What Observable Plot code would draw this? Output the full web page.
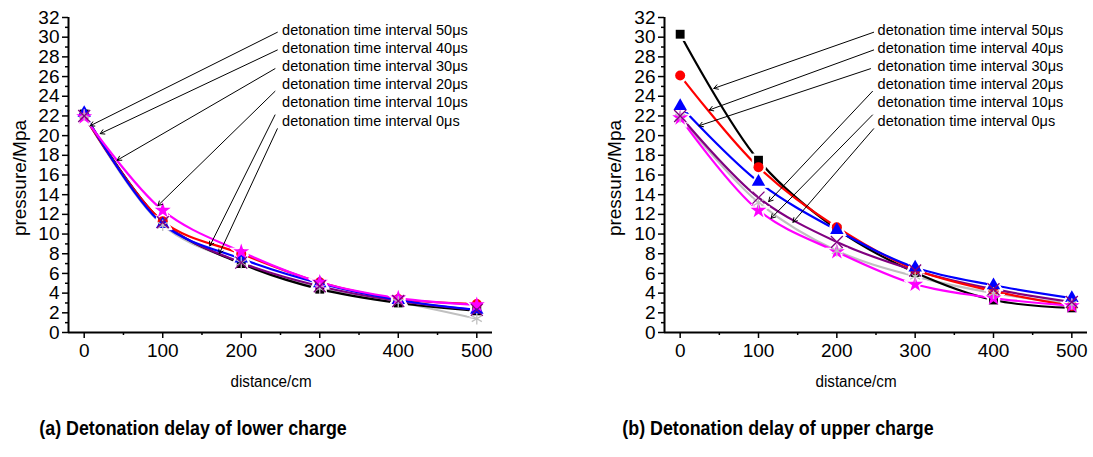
<!DOCTYPE html>
<html>
<head>
<meta charset="utf-8">
<script src="https://cdn.jsdelivr.net/npm/d3@7"></script>
<script src="https://cdn.jsdelivr.net/npm/@observablehq/plot@0.6"></script>
<style>
  html, body { margin: 0; padding: 0; background: #fff; }
  #wrap { position: relative; width: 1093px; height: 457px; font-family: "Liberation Sans", Arial, sans-serif; color: #000; overflow: hidden; }
  .panel { position: absolute; top: 0; }
  .ytitle { position: absolute; font-size: 19px; transform: translate(-50%, -50%) rotate(-90deg); white-space: nowrap; }
  .xtitle { position: absolute; font-size: 16px; transform: translate(-50%, -50%) scaleX(0.95); white-space: nowrap; }
  .caption { position: absolute; font-size: 21px; font-weight: bold; transform: translate(-50%, -50%) scaleX(0.85); white-space: nowrap; }
</style>
</head>
<body>
<div id="wrap"></div>
<script>
// ---- data ----
const distances = [0, 100, 200, 300, 400, 500];
const seriesNames = ["50μs", "40μs", "30μs", "20μs", "10μs", "0μs"];
const labelTexts = seriesNames.map(s => "detonation time interval " + s);

// (a) Detonation delay of lower charge
const lower50 = [22.2, 11.2, 7.0, 4.4, 3.0, 2.2];
const lower40 = [22.1, 11.3, 8.0, 5.1, 3.4, 2.9];
const lower30 = [22.3, 11.0, 7.5, 5.0, 3.3, 2.3];
const lower20 = [22.0, 11.2, 7.1, 4.7, 3.2, 2.3];
const lower10 = [22.1, 10.9, 7.1, 4.5, 3.1, 1.4];
const lower0  = [21.9, 12.4, 8.2, 5.1, 3.5, 2.8];

// (b) Detonation delay of upper charge
const upper50 = [30.3, 17.5, 10.5, 6.1, 3.3, 2.5];
const upper40 = [26.1, 16.8, 10.7, 6.4, 4.2, 2.7];
const upper30 = [23.0, 15.3, 10.4, 6.6, 4.8, 3.5];
const upper20 = [22.0, 13.7, 9.2, 6.3, 4.4, 3.1];
const upper10 = [21.9, 13.2, 8.3, 5.7, 4.0, 2.9];
const upper0  = [21.8, 12.4, 8.2, 4.9, 3.5, 2.7];

const xTicks = [0, 100, 200, 300, 400, 500];
const yTicks = d3.range(0, 33, 2);

// annotation arrows (data coordinates): tail at label, head at curve
const lowerArrowTail = [[246, 30.5], [246, 28.7], [243, 26.8], [243, 24.5], [243, 22.1], [246, 20.7]];
const lowerArrowHead = [[7.6, 21.0], [20.4, 20.2], [42, 17.5], [94, 12.9], [160, 8.8], [172, 8.0]];
const upperArrowTail = [[247, 30.5], [247, 28.7], [243, 26.8], [245.5, 24.5], [245.5, 22.1], [247, 20.7]];
const upperArrowHead = [[43, 24.8], [37, 22.6], [24, 21.0], [113, 13.3], [116, 11.6], [144, 11.2]];
const labelX = 252;
const labelY = [30.7, 28.9, 27.0, 25.2, 23.4, 21.5];

// ---- styles ----
const colorOf = {"50μs": "#000000", "40μs": "#ff0000", "30μs": "#0000ff", "20μs": "#800080", "10μs": "#c0c0c0", "0μs": "#ff00ff"};
const symbolOf = {"50μs": "square", "40μs": "circle", "30μs": "triangle", "20μs": "times", "10μs": "asterisk", "0μs": "star"};
const filled = new Set(["50μs", "40μs", "30μs", "0μs"]);
const drawOrder = ["10μs", "50μs", "20μs", "40μs", "30μs", "0μs"];

function tidy(valuesBySeries) {
  const rows = [];
  for (const s of drawOrder) {
    const vals = valuesBySeries[s];
    distances.forEach((d, i) => rows.push({series: s, x: d, y: vals[i]}));
  }
  return rows;
}

function panel(rows, tails, heads, marginLeft, marginRight) {
  const arrows = tails.map((t, i) => ({x1: t[0], y1: t[1], x2: heads[i][0], y2: heads[i][1]}));
  const labels = labelTexts.map((t, i) => ({text: t, x: labelX, y: labelY[i]}));
  return Plot.plot({
    width: 546,
    height: 400,
    marginLeft, marginRight,
    marginTop: 17,
    marginBottom: 68,
    style: {fontFamily: "'Liberation Sans', Arial, sans-serif", fontSize: "19px", color: "#000", background: "transparent", overflow: "visible"},
    x: {domain: [-20, 520]},
    y: {domain: [0, 32]},
    marks: [
      Plot.axisX({ticks: d3.range(50, 520, 100), tickSize: 3, text: null, strokeWidth: 1.5, label: null}),
      Plot.axisX({ticks: xTicks, tickSize: 6, tickPadding: 5, strokeWidth: 1.5, fontSize: 19, label: null}),
      Plot.axisY({ticks: d3.range(1, 33, 2), tickSize: 3, text: null, strokeWidth: 1.5, label: null}),
      Plot.axisY({ticks: yTicks, tickSize: 6, tickPadding: 3, strokeWidth: 1.5, fontSize: 19, label: null}),
      Plot.ruleY([0], {stroke: "#000", strokeWidth: 2}),
      Plot.ruleX([-20], {stroke: "#000", strokeWidth: 2}),
      Plot.line(rows, {x: "x", y: "y", z: "series", stroke: d => colorOf[d.series], curve: "catmull-rom", strokeWidth: 2.2}),
      Plot.dot(rows, {x: "x", y: "y", symbol: d => symbolOf[d.series], r: 7, fill: "#fff", stroke: "#fff", strokeWidth: 1}),
      Plot.dot(rows.filter(d => filled.has(d.series)), {x: "x", y: "y", symbol: d => symbolOf[d.series], r: 5, fill: d => colorOf[d.series], stroke: "none"}),
      Plot.dot(rows.filter(d => !filled.has(d.series)), {x: "x", y: "y", symbol: d => symbolOf[d.series], r: 5.5, fill: "none", stroke: d => colorOf[d.series], strokeWidth: 1.3}),
      Plot.arrow(arrows, {x1: "x1", y1: "y1", x2: "x2", y2: "y2", stroke: "#000", strokeWidth: 1, headLength: 7}),
      Plot.text(labels, {x: "x", y: "y", text: "text", textAnchor: "start", fontSize: 14.5, fill: "#000"})
    ]
  });
}

const lowerRows = tidy({"50μs": lower50, "40μs": lower40, "30μs": lower30, "20μs": lower20, "10μs": lower10, "0μs": lower0});
const upperRows = tidy({"50μs": upper50, "40μs": upper40, "30μs": upper30, "20μs": upper20, "10μs": upper10, "0μs": upper0});

const wrap = document.getElementById("wrap");
const left = panel(lowerRows, lowerArrowTail, lowerArrowHead, 68, 54);
left.classList.add("panel"); left.style.left = "0px";
const right = panel(upperRows, upperArrowTail, upperArrowHead, 118, 5);
right.classList.add("panel"); right.style.left = "546px";
wrap.append(left, right);

function addText(cls, text, x, y) {
  const el = document.createElement("div");
  el.className = cls; el.textContent = text;
  el.style.left = x + "px"; el.style.top = y + "px";
  wrap.append(el);
}
addText("ytitle", "pressure/Mpa", 20, 178);
addText("ytitle", "pressure/Mpa", 615, 178);
addText("xtitle", "distance/cm", 271, 382);
addText("xtitle", "distance/cm", 856, 382);
addText("caption", "(a) Detonation delay of lower charge", 193, 428);
addText("caption", "(b) Detonation delay of upper charge", 778, 428);
</script>
</body>
</html>
